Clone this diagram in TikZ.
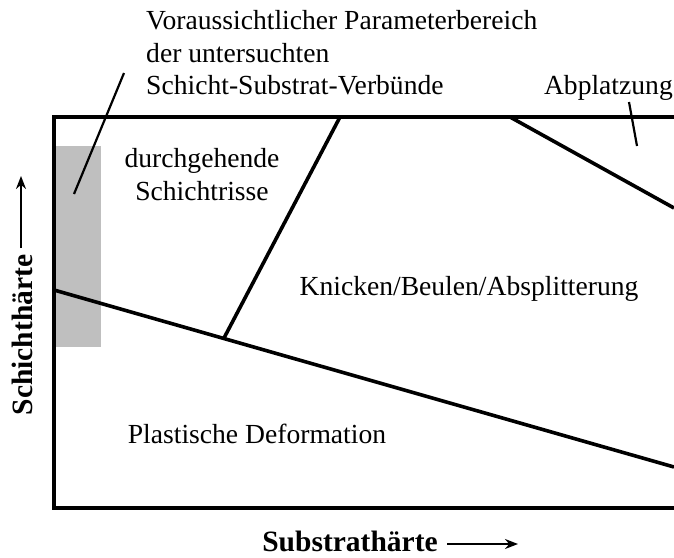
\documentclass[tikz,border=0pt]{standalone}
\usepackage{fontspec}
\setmainfont{Liberation Serif}
\usetikzlibrary{arrows.meta}
\begin{document}
\begin{tikzpicture}[x=1pt,y=-1pt,
  lbl/.style={font=\fontsize{27.6}{32}\selectfont, inner sep=0pt},
  axlbl/.style={font=\fontsize{29.5}{32}\selectfont\bfseries, inner sep=0pt},
  frameline/.style={line width=4pt, line cap=butt, line join=miter},
  regline/.style={line width=3.6pt},
  leader/.style={line width=2.2pt},
  axarrow/.style={line width=2.4pt, -{Stealth[length=13pt,width=10pt]}}]
\useasboundingbox (0,0) rectangle (674,557);
% grey parameter range
\fill[gray!50] (55,146) rectangle (101,347);
% frame (open to the right)
\coordinate (ftr) at (674,117);
\coordinate (ftl) at (54,117);
\coordinate (fbl) at (54,508);
\coordinate (fbr) at (674,508);
\draw[frameline] (ftr) -- (ftl) -- (fbl) -- (fbr);
% region boundaries
\coordinate (pa) at (54,290);
\coordinate (pb) at (674,467);
\draw[regline] (pa) -- (pb);
\coordinate (ka) at (340,117);
\coordinate (kb) at (224,338);
\draw[regline] (ka) -- (kb);
\coordinate (aa) at (510,117);
\coordinate (ab) at (674,208);
\draw[regline] (aa) -- (ab);
% labels
\node[lbl, anchor=base west] (v1) at (146,29) {Voraussichtlicher Parameterbereich};
\node[lbl, anchor=base west] (v2) at (146,62) {der untersuchten};
\node[lbl, anchor=base west] (v3) at (146,94) {Schicht-Substrat-Verbünde};
\node[lbl, anchor=base east] (abp) at (673,94) {Abplatzung};
\node[lbl, anchor=base] (d1) at (202,167) {durchgehende};
\node[lbl, anchor=base] (d2) at (202,200) {Schichtrisse};
\node[lbl, anchor=base] (kn) at (469,295) {Knicken/Beulen/Absplitterung};
\node[lbl, anchor=base] (pl) at (257,443) {Plastische Deformation};
% leaders
\coordinate (vl1) at (124,73);
\coordinate (vl2) at (74,194);
\draw[leader] (vl1) -- (vl2);
\coordinate (al1) at (629,102);
\coordinate (al2) at (637,146);
\draw[leader] (al1) -- (al2);
% axis labels
\node[axlbl, anchor=base] (sub) at (350,551) {Substrathärte};
\coordinate (sa1) at (447,544);
\coordinate (sa2) at (518,544);
\draw[axarrow] (sa1) -- (sa2);
\node[axlbl, anchor=base, rotate=90] (sch) at (32,335) {Schichthärte};
\coordinate (ha1) at (21,248);
\coordinate (ha2) at (21,176);
\draw[axarrow] (ha1) -- (ha2);
\end{tikzpicture}
\end{document}
